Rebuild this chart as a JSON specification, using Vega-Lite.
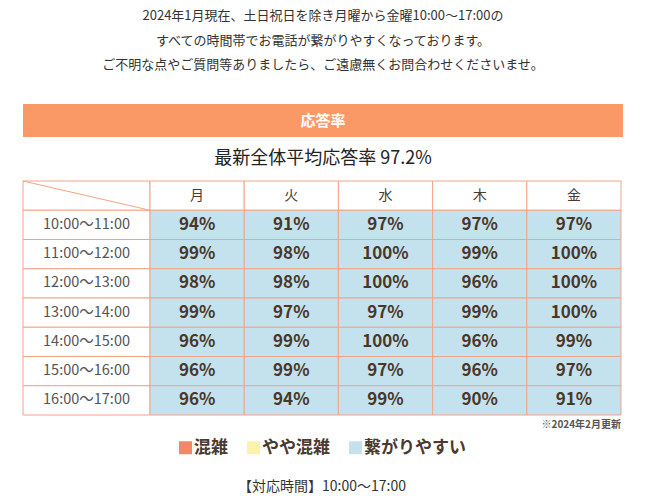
{
  "$schema": "https://vega.github.io/schema/vega-lite/v6.json",
  "padding": {"left": 22, "top": 10, "right": 0, "bottom": 0},
  "spacing": 4,
  "config": {
    "view": {"stroke": null},
    "font": "Noto Sans CJK JP",
    "concat": {"spacing": 0}
  },
  "vconcat": [
    {
      "title": {
        "text": [
          "2024年1月現在、土日祝日を除き月曜から金曜10:00〜17:00の",
          "すべての時間帯でお電話が繋がりやすくなっております。",
          "ご不明な点やご質問等ありましたら、ご遠慮無くお問合わせくださいませ。"
        ],
        "fontSize": 13,
        "fontWeight": "normal",
        "color": "#333333",
        "lineHeight": 24.5,
        "anchor": "middle",
        "frame": "group",
        "offset": 32
      },
      "width": 600,
      "height": 33,
      "data": {"values": [{"label": "応答率"}]},
      "layer": [
        {"mark": {"type": "rect", "fill": "#FA9966"}, "encoding": {}},
        {
          "mark": {"type": "text", "color": "white", "fontWeight": "bold", "fontSize": 15},
          "encoding": {"text": {"field": "label"}}
        }
      ]
    },
    {
      "width": 600,
      "height": 35,
      "data": {"values": [{"label": "最新全体平均応答率 97.2%"}]},
      "mark": {"type": "text", "fontSize": 18, "color": "#222222"},
      "encoding": {"text": {"field": "label"}}
    },
    {
      "spacing": 0,
      "bounds": "flush",
      "hconcat": [
        {
          "width": 127,
          "height": 234,
          "data": {
            "values": [
              {"row": "header", "label": ""},
              {"row": "10:00〜11:00", "label": "10:00〜11:00"},
              {"row": "11:00〜12:00", "label": "11:00〜12:00"},
              {"row": "12:00〜13:00", "label": "12:00〜13:00"},
              {"row": "13:00〜14:00", "label": "13:00〜14:00"},
              {"row": "14:00〜15:00", "label": "14:00〜15:00"},
              {"row": "15:00〜16:00", "label": "15:00〜16:00"},
              {"row": "16:00〜17:00", "label": "16:00〜17:00"}
            ]
          },
          "resolve": {"scale": {"y": "independent"}},
          "layer": [
            {
              "mark": {"type": "rect", "fill": "white", "stroke": "#F4A486", "strokeWidth": 1},
              "encoding": {
                "y": {
                  "field": "row",
                  "type": "nominal",
                  "sort": null,
                  "scale": {"paddingInner": 0, "paddingOuter": 0},
                  "axis": null
                }
              }
            },
            {
              "mark": {"type": "text", "fontSize": 14.5, "color": "#555555"},
              "encoding": {
                "y": {"field": "row", "type": "nominal", "sort": null, "scale": {"paddingInner": 0, "paddingOuter": 0}, "axis": null},
                "text": {"field": "label"}
              }
            },
            {
              "data": {"values": [{"x0": 0, "x1": 1, "y0": 8, "y1": 7}]},
              "mark": {"type": "rule", "color": "#F4A486", "strokeWidth": 1},
              "encoding": {
                "x": {"field": "x0", "type": "quantitative", "scale": {"domain": [0, 1]}, "axis": null},
                "x2": {"field": "x1"},
                "y": {"field": "y0", "type": "quantitative", "scale": {"domain": [0, 8]}, "axis": null},
                "y2": {"field": "y1"}
              }
            }
          ]
        },
        {
          "width": 471,
          "height": 234,
          "data": {
            "values": [
              {"row": "header", "day": "月"}, {"row": "header", "day": "火"}, {"row": "header", "day": "水"}, {"row": "header", "day": "木"}, {"row": "header", "day": "金"},
              {"row": "10:00〜11:00", "day": "月", "rate": 0.94, "level": "繋がりやすい"},
              {"row": "10:00〜11:00", "day": "火", "rate": 0.91, "level": "繋がりやすい"},
              {"row": "10:00〜11:00", "day": "水", "rate": 0.97, "level": "繋がりやすい"},
              {"row": "10:00〜11:00", "day": "木", "rate": 0.97, "level": "繋がりやすい"},
              {"row": "10:00〜11:00", "day": "金", "rate": 0.97, "level": "繋がりやすい"},
              {"row": "11:00〜12:00", "day": "月", "rate": 0.99, "level": "繋がりやすい"},
              {"row": "11:00〜12:00", "day": "火", "rate": 0.98, "level": "繋がりやすい"},
              {"row": "11:00〜12:00", "day": "水", "rate": 1.0, "level": "繋がりやすい"},
              {"row": "11:00〜12:00", "day": "木", "rate": 0.99, "level": "繋がりやすい"},
              {"row": "11:00〜12:00", "day": "金", "rate": 1.0, "level": "繋がりやすい"},
              {"row": "12:00〜13:00", "day": "月", "rate": 0.98, "level": "繋がりやすい"},
              {"row": "12:00〜13:00", "day": "火", "rate": 0.98, "level": "繋がりやすい"},
              {"row": "12:00〜13:00", "day": "水", "rate": 1.0, "level": "繋がりやすい"},
              {"row": "12:00〜13:00", "day": "木", "rate": 0.96, "level": "繋がりやすい"},
              {"row": "12:00〜13:00", "day": "金", "rate": 1.0, "level": "繋がりやすい"},
              {"row": "13:00〜14:00", "day": "月", "rate": 0.99, "level": "繋がりやすい"},
              {"row": "13:00〜14:00", "day": "火", "rate": 0.97, "level": "繋がりやすい"},
              {"row": "13:00〜14:00", "day": "水", "rate": 0.97, "level": "繋がりやすい"},
              {"row": "13:00〜14:00", "day": "木", "rate": 0.99, "level": "繋がりやすい"},
              {"row": "13:00〜14:00", "day": "金", "rate": 1.0, "level": "繋がりやすい"},
              {"row": "14:00〜15:00", "day": "月", "rate": 0.96, "level": "繋がりやすい"},
              {"row": "14:00〜15:00", "day": "火", "rate": 0.99, "level": "繋がりやすい"},
              {"row": "14:00〜15:00", "day": "水", "rate": 1.0, "level": "繋がりやすい"},
              {"row": "14:00〜15:00", "day": "木", "rate": 0.96, "level": "繋がりやすい"},
              {"row": "14:00〜15:00", "day": "金", "rate": 0.99, "level": "繋がりやすい"},
              {"row": "15:00〜16:00", "day": "月", "rate": 0.96, "level": "繋がりやすい"},
              {"row": "15:00〜16:00", "day": "火", "rate": 0.99, "level": "繋がりやすい"},
              {"row": "15:00〜16:00", "day": "水", "rate": 0.97, "level": "繋がりやすい"},
              {"row": "15:00〜16:00", "day": "木", "rate": 0.96, "level": "繋がりやすい"},
              {"row": "15:00〜16:00", "day": "金", "rate": 0.97, "level": "繋がりやすい"},
              {"row": "16:00〜17:00", "day": "月", "rate": 0.96, "level": "繋がりやすい"},
              {"row": "16:00〜17:00", "day": "火", "rate": 0.94, "level": "繋がりやすい"},
              {"row": "16:00〜17:00", "day": "水", "rate": 0.99, "level": "繋がりやすい"},
              {"row": "16:00〜17:00", "day": "木", "rate": 0.90, "level": "繋がりやすい"},
              {"row": "16:00〜17:00", "day": "金", "rate": 0.91, "level": "繋がりやすい"}
            ]
          },
          "encoding": {
            "x": {"field": "day", "type": "nominal", "sort": null, "scale": {"paddingInner": 0, "paddingOuter": 0}, "axis": null},
            "y": {"field": "row", "type": "nominal", "sort": null, "scale": {"paddingInner": 0, "paddingOuter": 0}, "axis": null}
          },
          "layer": [
            {
              "transform": [{"filter": "datum.row === 'header'"}],
              "mark": {"type": "rect", "fill": "white", "stroke": "#F4A486", "strokeWidth": 1}
            },
            {
              "transform": [{"filter": "datum.row === 'header'"}],
              "mark": {"type": "text", "fontSize": 14, "color": "#4A3A30"},
              "encoding": {"text": {"field": "day"}}
            },
            {
              "transform": [{"filter": "datum.row !== 'header'"}],
              "mark": {"type": "rect", "stroke": "#F4A486", "strokeWidth": 1, "fillOpacity": 1},
              "encoding": {
                "fill": {
                  "field": "level",
                  "type": "nominal",
                  "scale": {"domain": ["混雑", "やや混雑", "繋がりやすい"], "range": ["#F4876A", "#FAF3A8", "#C4E2EE"]},
                  "legend": {
                    "orient": "none",
                    "legendX": 154,
                    "legendY": 335,
                    "direction": "horizontal",
                    "title": null,
                    "symbolType": "square",
                    "symbolSize": 169,
                    "symbolStrokeWidth": 0,
                    "symbolOpacity": 1,
                    "labelFontSize": 17,
                    "labelFontWeight": "bold",
                    "labelColor": "#4A3A30",
                    "labelOffset": 0,
                    "columnPadding": 17
                  }
                }
              }
            },
            {
              "transform": [{"filter": "datum.row !== 'header'"}],
              "mark": {"type": "text", "fontSize": 17, "fontWeight": "bold", "color": "#4A3728"},
              "encoding": {"text": {"field": "rate", "type": "quantitative", "format": ".0%"}}
            }
          ]
        }
      ]
    },
    {
      "title": {
        "text": "※2024年2月更新",
        "anchor": "end",
        "frame": "group",
        "fontSize": 10,
        "fontWeight": "bold",
        "color": "#555555",
        "offset": 47
      },
      "width": 598,
      "height": 20,
      "data": {"values": [{"t": "【対応時間】10:00〜17:00"}]},
      "mark": {"type": "text", "fontSize": 14, "color": "#333333"},
      "encoding": {"text": {"field": "t"}}
    }
  ]
}
